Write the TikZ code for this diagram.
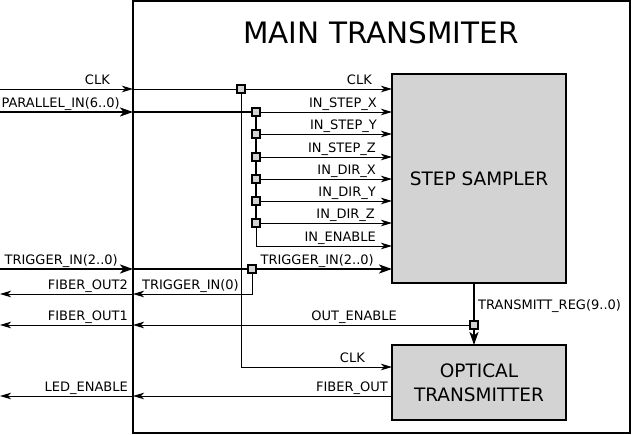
\documentclass[tikz,border=0pt]{standalone}
\usepackage{fontspec}
\setmainfont{DejaVu Sans}
\usetikzlibrary{arrows.meta, positioning}
\definecolor{boxgray}{RGB}{211,211,211}

\begin{document}
\begin{tikzpicture}[
    x=1pt, y=-1pt,
    every node/.style={font=\fontsize{13}{15}\selectfont},
    frame/.style={draw, line width=2.4pt, minimum width=497pt, minimum height=432pt,
                  inner sep=0pt, outer sep=0pt},
    block/.style={draw, fill=boxgray, line width=1.3pt, minimum width=174pt, inner sep=0pt,
                  outer sep=0pt, align=center, font=\fontsize{18.5}{24}\selectfont},
    junc/.style={draw, fill=boxgray, line width=1.4pt, minimum size=8pt, inner sep=0pt},
    lbl/.style={anchor=base east, inner sep=0pt},
    sig/.style={-{Stealth[length=11pt, width=6.5pt, inset=3pt]}, line width=0.9pt},
    bus/.style={-{Stealth[length=13pt, width=9pt, inset=3.5pt]}, line width=2pt},
    thickwire/.style={line width=2pt}
]
    \useasboundingbox (0,0) rectangle (633,435);
    \node[frame] (main) at (381.5,217.2) {};
    \node[font=\fontsize{29.5}{32}\selectfont] (title) at (381,33) {MAIN TRANSMITER};
    \node[block, minimum height=209pt] (ss) at (479,178.5) {STEP SAMPLER};
    \node[block, minimum height=75pt] (ot) at (479,382.5) {OPTICAL\\TRANSMITTER};

    % ports on the left edge
    \coordinate (clkin) at (0,89);
    \coordinate (parin) at (0,112);
    \coordinate (trgin) at (0,269);
    \coordinate (fo2) at (0,294);
    \coordinate (fo1) at (0,325);
    \coordinate (led) at (0,396);
    % junctions
    \coordinate (jclk) at (241,89);
    \coordinate (jpar) at (256,112);
    \coordinate (jend) at (256,223);
    \coordinate (jtrg) at (252,269);
    \coordinate (jreg) at (474,325);
    \foreach \y [count=\i] in {134,157,179,201,223}
        \coordinate (jb\i) at (256,\y);

    % clock
    \draw[sig] (clkin) -- (clkin -| main.west);
    \draw[sig] (clkin -| main.west) -- (clkin -| ss.west);
    \draw[sig] (jclk) |- (ot.west |- 0,367);

    % parallel bus
    \draw[bus] (parin) -- (parin -| main.west);
    \draw[thickwire] (parin -| main.west) -- (jpar) -- (jend);
    \draw[sig] (jpar) -- (jpar -| ss.west);
    \foreach \i in {1,...,5}
        \draw[sig] (jb\i) -- (jb\i -| ss.west);
    \draw[sig] (jend) |- (ss.west |- 0,246);

    % trigger
    \draw[bus] (trgin) -- (trgin -| main.west);
    \draw[bus] (trgin -| main.west) -- (trgin -| ss.west);
    \draw[sig] (jtrg) |- (fo2 -| main.west);
    \draw[sig] (fo2 -| main.west) -- (fo2);

    % outputs
    \draw[bus] (ss.south -| jreg) -- (ot.north -| jreg);
    \draw[sig] (jreg) -- (fo1 -| main.west);
    \draw[sig] (fo1 -| main.west) -- (fo1);
    \draw[sig] (ot.west |- led) -- (led -| main.west);
    \draw[sig] (led -| main.west) -- (led);

    \foreach \j in {jclk,jpar,jb1,jb2,jb3,jb4,jb5,jtrg,jreg}
        \node[junc] (sq-\j) at (\j) {};

    % labels outside
    \node[lbl] (l-clkin) at (110,84.5) {CLK};
    \node[lbl] (l-parin) at (120,107.5) {PARALLEL\_IN(6..0)};
    \node[lbl] (l-trgin) at (118,264.5) {TRIGGER\_IN(2..0)};
    \node[lbl] (l-fo2) at (128,289.5) {FIBER\_OUT2};
    \node[lbl] (l-fo1) at (128,320.5) {FIBER\_OUT1};
    \node[lbl] (l-led) at (128,391.5) {LED\_ENABLE};
    % labels inside
    \node[lbl] (l-clk) at (372,84.5) {CLK};
    \node[lbl] (l-sx) at (377,107.5) {IN\_STEP\_X};
    \node[lbl] (l-sy) at (377,129.5) {IN\_STEP\_Y};
    \node[lbl] (l-sz) at (376,152.5) {IN\_STEP\_Z};
    \node[lbl] (l-dx) at (376,174.5) {IN\_DIR\_X};
    \node[lbl] (l-dy) at (376,196.5) {IN\_DIR\_Y};
    \node[lbl] (l-dz) at (375,218.5) {IN\_DIR\_Z};
    \node[lbl] (l-en) at (376,241.5) {IN\_ENABLE};
    \node[lbl] (l-trg) at (374,264.5) {TRIGGER\_IN(2..0)};
    \node[lbl] (l-trg0) at (239,289.5) {TRIGGER\_IN(0)};
    \node[lbl] (l-oen) at (397,320.5) {OUT\_ENABLE};
    \node[lbl] (l-otclk) at (365,362.5) {CLK};
    \node[lbl] (l-fo) at (388,391.5) {FIBER\_OUT};
    \node[lbl, anchor=base west] (l-reg) at (478,310) {TRANSMITT\_REG(9..0)};
\end{tikzpicture}
\end{document}
